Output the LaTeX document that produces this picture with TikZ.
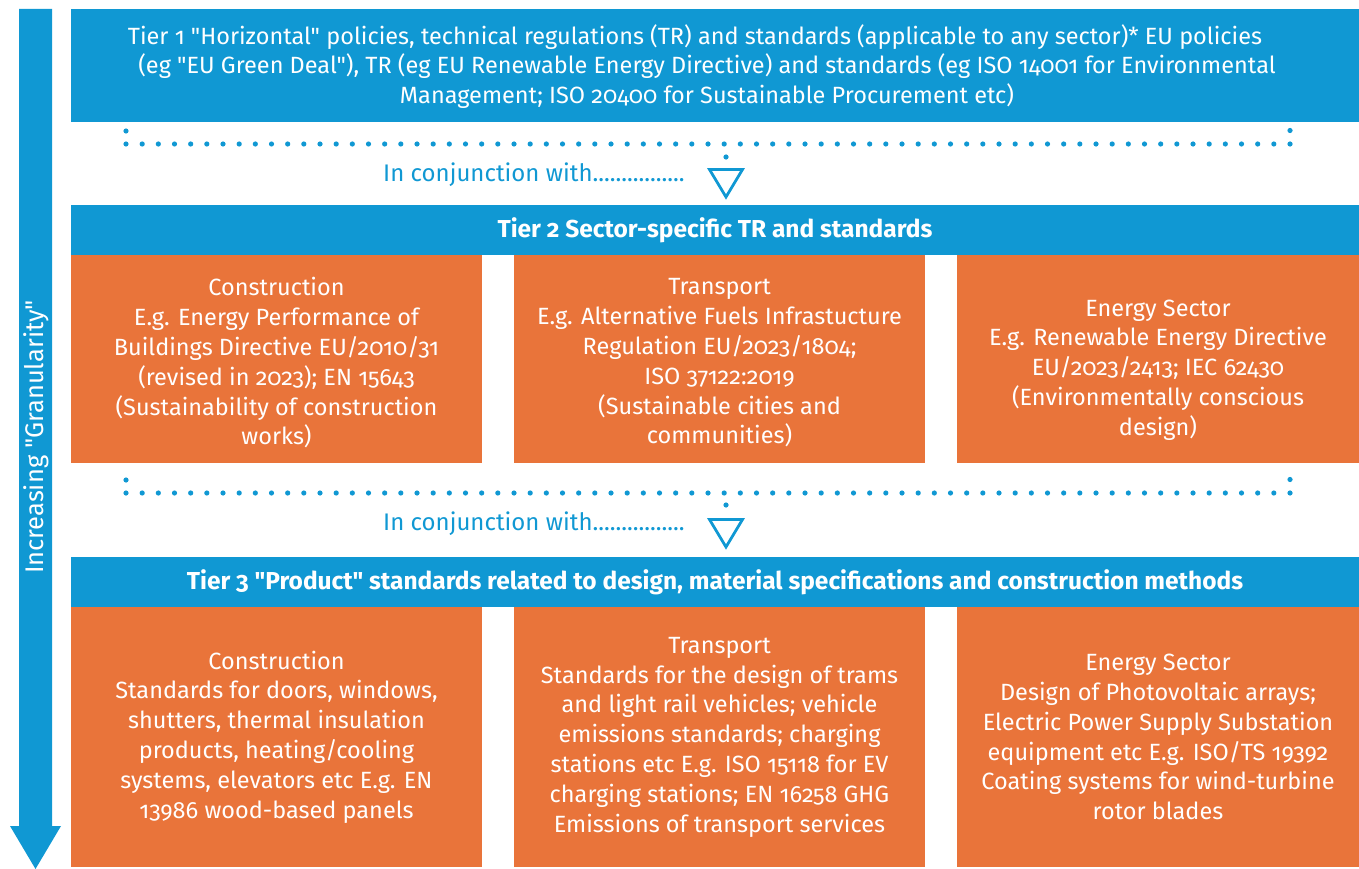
\documentclass[tikz,border=0pt]{standalone}
\usepackage{fontspec}
\setmainfont{Fira Sans}[Numbers=OldStyle, Ligatures=TeXOff]
\newcommand\dq{\symbol{34}}
\definecolor{eublue}{RGB}{16,152,211}
\definecolor{euorange}{RGB}{233,116,58}
\tikzset{
  box/.style={rectangle, anchor=north west, inner sep=0pt, outer sep=0pt, align=center, text=white},
  bluebox/.style={box, fill=eublue},
  orangebox/.style={box, fill=euorange},
  bodytext/.style={font=\fontsize{23.5}{29.8}\selectfont},
  headtext/.style={font=\fontsize{24.5}{29.8}\selectfont\bfseries},
  conjtext/.style={text=eublue, font=\fontsize{24}{29.8}\selectfont, inner sep=0pt},
  tri/.style={draw=eublue, line width=2.8pt, line join=miter},
  dot/.style={fill=eublue},
}
\begin{document}
\begin{tikzpicture}[x=1pt,y=-1pt]
\useasboundingbox (0,0) rectangle (1359,869);
% left arrow
\fill[eublue] (19,9) -- (52,9) -- (52,826) -- (61,826) -- (35.5,869) -- (10,826) -- (19,826) -- cycle;
\node[rotate=90, text=white, font=\fontsize{25.5}{30}\selectfont, inner sep=0pt] (gran) at (36,437) {Increasing "Granularity"};
% tier 1
\node[bluebox, minimum width=1288pt, minimum height=113pt] (t1) at (71,9) {};
\node[bodytext, text=white, align=center, inner sep=0pt] (x1) at ([xshift=-8pt,yshift=-1pt]t1.center)
 {Tier 1 "Horizontal" policies, technical regulations (TR) and standards (applicable to any sector)* EU policies\hspace*{24pt}\\
  (eg "EU Green Deal"), TR (eg EU Renewable Energy Directive) and standards (eg ISO 14001 for Environmental\\
  Management; ISO 20400 for Sustainable Procurement etc)};
% dotted line 1
\foreach \i in {0,...,72} \fill[dot] ({126+\i*16.1667},144) circle (2.6);
\fill[dot] (126,131) circle (2.6);
\fill[dot] (1290,130.5) circle (2.6);
\node[conjtext, anchor=west] (c1) at (383,175) {In conjunction with................};
\fill[dot] (726,157) circle (2.6);
\draw[tri] (709.5,169.5) -- (742.5,169.5) -- (726,197) -- cycle;
% tier 2
\node[bluebox, headtext, minimum width=1288pt, minimum height=50pt] (t2) at (71,205) {Tier 2 Sector-specific TR and standards};
\node[orangebox, minimum width=411pt, minimum height=208pt] (b21) at (71,255) {};
\node[orangebox, minimum width=411pt, minimum height=208pt] (b22) at (514,255) {};
\node[orangebox, minimum width=402pt, minimum height=208pt] (b23) at (957,255) {};
\node[bodytext, text=white, align=center, inner sep=0pt] (x21) at ([yshift=-4pt]b21.center)
 {Construction\\E.g. Energy Performance of\\Buildings Directive EU/2010/31\\(revised in 2023); EN 15643\\(Sustainability of construction\\works)};
\node[bodytext, text=white, align=center, inner sep=0pt] (x22) at ([yshift=-4pt]b22.center)
 {Transport\\E.g. Alternative Fuels Infrastucture\\Regulation EU/2023/1804;\\ISO 37122:2019\\(Sustainable cities and\\communities)};
\node[bodytext, text=white, align=center, inner sep=0pt] (x23) at ([yshift=-11pt]b23.center)
 {Energy Sector\\E.g. Renewable Energy Directive\\EU/2023/2413; IEC 62430\\(Environmentally conscious\\design)};
% dotted line 2
\foreach \i in {0,...,72} \fill[dot] ({126+\i*16.1667},493) circle (2.6);
\fill[dot] (126,480) circle (2.6);
\fill[dot] (1290,479.5) circle (2.6);
\node[conjtext, anchor=west] (c2) at (383,524) {In conjunction with................};
\fill[dot] (726,505) circle (2.6);
\draw[tri] (709.5,519.5) -- (742.5,519.5) -- (726,547) -- cycle;
% tier 3
\node[bluebox, headtext, minimum width=1288pt, minimum height=50pt] (t3) at (71,557) {Tier 3 "Product" standards related to design, material specifications and construction methods};
\node[orangebox, minimum width=411pt, minimum height=260pt] (b31) at (71,607) {};
\node[orangebox, minimum width=411pt, minimum height=260pt] (b32) at (514,607) {};
\node[orangebox, minimum width=402pt, minimum height=260pt] (b33) at (957,607) {};
\node[bodytext, text=white, align=center, inner sep=0pt] (x31) at (b31.center)
 {Construction\\Standards for doors, windows,\\shutters, thermal insulation\\products, heating/cooling\\systems, elevators etc E.g. EN\\13986 wood-based panels};
\node[bodytext, text=white, align=center, inner sep=0pt] (x32) at (b32.center)
 {Transport\\Standards for the design of trams\\and light rail vehicles; vehicle\\emissions standards; charging\\stations etc E.g. ISO 15118 for EV\\charging stations; EN 16258 GHG\\Emissions of transport services};
\node[bodytext, text=white, align=center, inner sep=0pt] (x33) at (b33.center)
 {Energy Sector\\Design of Photovoltaic arrays;\\Electric Power Supply Substation\\equipment etc E.g. ISO/TS 19392\\Coating systems for wind-turbine\\rotor blades};
\end{tikzpicture}
\end{document}
